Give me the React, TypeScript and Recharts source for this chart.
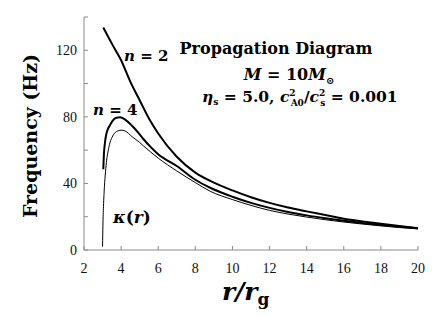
import { LineChart, Line, XAxis, YAxis, Customized } from 'recharts';

// r / r_g sample points and frequencies (Hz)
const rN2 = [3.04, 3.5, 4, 4.5, 5, 5.5, 6, 7, 8, 9, 10, 11, 12, 13, 14, 15, 16, 17, 18, 19, 20];
const freqN2 = [133.7, 124, 114, 101, 90, 79, 70, 56, 46.5, 40.5, 35.8, 31.7, 28.3, 25.5, 23.2, 21, 18.8, 17.2, 15.8, 14.4, 13.1];

const rN4 = [3.04, 3.07, 3.13, 3.2, 3.3, 3.4, 3.55, 3.75, 3.95, 4.2, 4.6, 5, 5.2, 5.6, 6, 7, 8, 8.8, 10, 11, 12, 13, 14, 15, 16, 17, 18, 19, 20];
const freqN4 = [48.5, 57, 64.6, 69.5, 73, 75, 77.8, 79.5, 79.8, 78.5, 74.5, 69.5, 66.7, 61.8, 57.5, 50.5, 42.2, 37.4, 32, 28.3, 25.3, 22.8, 20.8, 19.1, 17.6, 16.2, 15, 14, 13.1];

const rKappa = [3.0, 3.02, 3.05, 3.1, 3.16, 3.22, 3.3, 3.4, 3.55, 3.75, 4.0, 4.2, 4.6, 5, 5.2, 5.6, 6, 7, 8, 8.8, 10, 11, 12, 13, 14, 15, 16, 17, 18, 19, 20];
const freqKappa = [2, 15, 26, 38, 47, 54, 59.5, 64.5, 68.5, 71.2, 72, 71.6, 68, 64.6, 62.6, 58.8, 55.2, 47.5, 40.5, 35.3, 30.3, 26.8, 23.8, 21.6, 19.8, 18.2, 16.8, 15.6, 14.5, 13.5, 12.7];

const xTicks = [2, 4, 6, 8, 10, 12, 14, 16, 18, 20];
const yTicks = [0, 20, 40, 60, 80, 100, 120, 140];

const n2Data = rN2.map((r, i) => ({ r, f: freqN2[i] }));
const n4Data = rN4.map((r, i) => ({ r, f: freqN4[i] }));
const kappaData = rKappa.map((r, i) => ({ r, f: freqKappa[i] }));

const frame = '#8a8a8a';
const tickFont = { fontFamily: 'Liberation Serif', fontSize: 14, fill: '#111' };

function Annotations() {
  return (
    <g fill="#000" fontFamily="DejaVu Serif">
      <text x={30} y={136} fontSize={19} fontWeight="bold" textAnchor="middle" dominantBaseline="central" transform="rotate(-90 30 136)">
        Frequency (Hz)
      </text>
      <text x={222} y={300} fontSize={25} fontWeight="bold">
        <tspan fontStyle="italic">r</tspan>
        <tspan fontStyle="italic">/</tspan>
        <tspan fontStyle="italic">r</tspan>
        <tspan fontSize={17} dy={5}>g</tspan>
      </text>

      <text x={276} y={54} fontSize={16} fontWeight="bold" textAnchor="middle">Propagation Diagram</text>
      <text x={289} y={80} fontSize={16} fontWeight="bold" textAnchor="middle">
        <tspan fontStyle="italic">M</tspan> = 10<tspan fontStyle="italic">M</tspan>
        <tspan fontSize={10} dy={4}>⊙</tspan>
      </text>
      <text x={202} y={102} fontSize={15.5} fontWeight="bold">
        <tspan fontStyle="italic">η</tspan>
        <tspan fontSize={9} dy={3}>s</tspan>
        <tspan dy={-3}> = 5.0,  </tspan>
        <tspan fontStyle="italic">c</tspan>
        <tspan fontSize={9} dy={-6}>2</tspan>
        <tspan fontSize={9} dx={-5} dy={10}>A0</tspan>
        <tspan dy={-4}>/</tspan>
        <tspan fontStyle="italic">c</tspan>
        <tspan fontSize={9} dy={-6}>2</tspan>
        <tspan fontSize={9} dx={-5} dy={10}>s</tspan>
        <tspan dy={-4}> = 0.001</tspan>
      </text>

      <text x={124} y={61} fontSize={15} fontWeight="bold">
        <tspan fontStyle="italic">n</tspan> = 2
      </text>
      <text x={93} y={115} fontSize={15} fontWeight="bold">
        <tspan fontStyle="italic">n</tspan> = 4
      </text>
      <text x={113} y={223} fontSize={17} fontWeight="bold">
        <tspan fontStyle="italic">κ</tspan>(<tspan fontStyle="italic">r</tspan>)
      </text>
    </g>
  );
}

export default function App() {
  return (
    <div style={{ position: 'absolute', left: 0, top: 0, background: '#fff' }}>
      <LineChart width={436} height={316} margin={{ top: 17, right: 18, bottom: 36, left: 24 }}>
        <XAxis
          dataKey="r"
          type="number"
          domain={[2, 20]}
          ticks={xTicks}
          tickSize={-4}
          tickMargin={17}
          stroke={frame}
          tick={tickFont}
          height={30}
        />
        <XAxis xAxisId="top" orientation="top" type="number" domain={[2, 20]} ticks={xTicks} tickSize={-4} tick={false} stroke={frame} height={0} />
        <YAxis
          type="number"
          domain={[0, 140]}
          ticks={yTicks}
          tickSize={-4}
          tickMargin={11}
          stroke={frame}
          tick={tickFont}
          tickFormatter={(v: number) => (v % 40 === 0 ? String(v) : '')}
          width={60}
        />
        <YAxis yAxisId="right" orientation="right" type="number" domain={[0, 140]} ticks={yTicks} tickSize={-4} tick={false} stroke={frame} width={0} />
        <Line data={n2Data} dataKey="f" type="monotone" stroke="#000" strokeWidth={2} dot={false} isAnimationActive={false} />
        <Line data={n4Data} dataKey="f" type="monotone" stroke="#000" strokeWidth={2} dot={false} isAnimationActive={false} />
        <Line data={kappaData} dataKey="f" type="monotone" stroke="#000" strokeWidth={1} dot={false} isAnimationActive={false} />
        <Customized component={<Annotations />} />
      </LineChart>
    </div>
  );
}
